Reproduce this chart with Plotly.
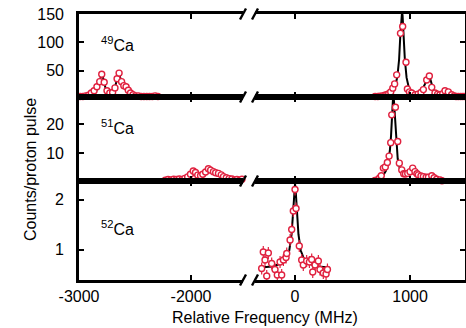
import plotly.graph_objects as go
from plotly.subplots import make_subplots

# ---------------- data ----------------
# 49Ca, left segment
ca49_left_x = [-2990, -2965, -2940, -2915, -2890, -2865, -2840, -2815, -2797, -2775, -2750, -2725,
               -2700, -2679, -2660, -2642, -2620, -2600, -2580, -2560, -2540, -2518, -2495, -2470,
               -2445, -2420, -2395, -2370, -2345, -2320, -2295]
ca49_left_y = [5, 5, 6, 7, 11, 15, 22, 31, 44, 30, 15, 11,
               12, 20, 36, 46, 31, 24, 22, 16, 11, 8, 6, 6,
               5, 5, 5, 5, 5, 6, 5]
ca49_left_fit_x = [-2990, -2920, -2880, -2850, -2830, -2815, -2805, -2797, -2788, -2775, -2760, -2740,
                   -2720, -2700, -2680, -2665, -2652, -2645, -2635, -2620, -2605, -2590, -2575, -2555,
                   -2530, -2500, -2450, -2290]
ca49_left_fit_y = [5, 6, 9, 14, 22, 32, 40, 45, 40, 28, 17, 12,
                   11, 13, 20, 32, 44, 46, 40, 30, 25, 24, 21, 15,
                   10, 7, 5.5, 5]
# 49Ca, right segment
ca49_right_x = [696, 720, 739, 760, 780, 797, 815, 832, 850, 866, 884, 917, 936, 965, 977, 995, 1015,
                1045, 1070, 1095, 1116, 1145, 1168, 1189, 1217, 1240, 1260, 1285, 1304, 1333, 1362,
                1385, 1400, 1420, 1440, 1460, 1478]
ca49_right_y = [5, 5, 5.5, 6, 7, 8, 10, 13, 19.6, 27, 43, 116, 128, 65, 18, 13, 11,
                8, 9, 12, 17, 34, 41, 21, 11, 9, 8, 10, 15, 13, 8,
                6, 5, 5, 5, 5, 5]
ca49_right_fit_x = [690, 750, 800, 840, 870, 890, 905, 915, 925, 930, 935, 945, 955, 970, 990, 1020,
                    1060, 1100, 1130, 1150, 1165, 1180, 1200, 1230, 1270, 1290, 1305, 1320, 1350, 1400,
                    1480]
ca49_right_fit_y = [5, 6, 8, 13, 22, 40, 70, 110, 148, 152, 148, 110, 70, 38, 20, 11,
                    9, 14, 28, 38, 42, 33, 18, 10, 9, 12, 14, 12, 8, 6,
                    5]

# 51Ca, left segment
ca51_left_x = [-2230, -2205, -2180, -2155, -2130, -2105, -2080, -2055, -2030, -2005, -1980, -1960,
               -1940, -1915, -1895, -1870, -1845, -1825, -1800, -1780, -1755, -1730, -1710, -1685,
               -1660, -1635, -1610, -1590, -1565, -1545]
ca51_left_y = [0.8, 1.0, 0.9, 1.1, 1.0, 1.2, 1.0, 1.4, 1.9, 2.8, 3.9, 3.4,
               2.5, 2.3, 2.8, 3.6, 4.7, 4.2, 3.7, 3.3, 3.1, 2.6, 2.0, 1.6,
               1.3, 1.2, 0.9, 1.0, 0.8, 1.1]
ca51_left_fit_x = [-2230, -2100, -2040, -2010, -1990, -1978, -1965, -1945, -1925, -1900, -1875, -1855,
                   -1845, -1835, -1815, -1790, -1765, -1740, -1715, -1690, -1650, -1545]
ca51_left_fit_y = [0.9, 1.1, 1.6, 2.6, 3.6, 4.0, 3.6, 2.6, 2.3, 2.6, 3.5, 4.4,
                   4.6, 4.3, 3.6, 3.1, 2.9, 2.5, 2.0, 1.5, 1.1, 0.9]
# 51Ca, right segment
ca51_right_x = [652, 672, 695, 715, 735, 750, 768, 785, 803, 818, 832, 841, 873, 893, 907, 928, 945,
                960, 980, 1000, 1023, 1043, 1060, 1072, 1095, 1116, 1140, 1160, 1189, 1210, 1232,
                1261, 1278]
ca51_right_y = [0.3, 0.4, 0.7, 0.9, 1.5, 2.3, 4.9, 5.3, 6.8, 9.0, 13.6, 23.1, 25.7, 14.0, 6.6, 4.3, 3.0,
                2.9, 3.1, 3.7, 4.9, 3.7, 3.0, 2.6, 2.2, 2.0, 1.8, 1.8, 2.3, 1.6, 1.1,
                0.9, 0.6]
ca51_right_fit_x = [652, 720, 760, 790, 810, 825, 835, 845, 853, 860, 870, 880, 893, 910, 930, 960,
                    990, 1012, 1025, 1045, 1070, 1110, 1160, 1190, 1220, 1278]
ca51_right_fit_y = [0.3, 0.8, 2.0, 4.0, 7.0, 11.0, 16.0, 24.0, 29.5, 28.0, 22.0, 14.0, 8.0, 5.0, 3.5, 3.0,
                    3.8, 4.6, 4.6, 3.6, 2.6, 2.0, 1.9, 2.0, 1.4, 0.8]

# 52Ca, right segment only
ca52_x = [-290, -276, -261, -246, -232, -203, -174, -154, -130, -116, -101, -78, -72, -43, -29, -15,
          0, 9, 37, 58, 72, 101, 125, 145, 154, 174, 203, 217, 246, 270, 282]
ca52_y = [0.62, 0.95, 0.79, 0.47, 0.93, 0.72, 0.60, 0.49, 0.75, 0.49, 0.79, 0.84, 0.92, 1.19, 1.40, 1.77,
          2.20, 1.82, 1.07, 0.79, 0.69, 0.77, 0.75, 0.80, 0.55, 0.69, 0.77, 0.60, 0.53, 0.51, 0.60]
ca52_err = [0.12] * len(ca52_x)
ca52_fit_x = [-300, -200, -120, -80, -50, -30, -15, -5, 0, 5, 15, 30, 50, 80, 120, 200, 300]
ca52_fit_y = [0.64, 0.66, 0.72, 0.80, 0.98, 1.30, 1.80, 2.20, 2.32, 2.20, 1.80, 1.30, 0.98, 0.80, 0.72,
              0.66, 0.64]

isotope_labels = ["<sup>49</sup>Ca", "<sup>51</sup>Ca", "<sup>52</sup>Ca"]
x_left_ticks = [-3000, -2000]
x_left_ticktext = ["-3000", "-2000"]
x_right_ticks = [0, 1000]
x_right_ticktext = ["0", "1000"]
y_ticks = [[50, 100, 150], [10, 20], [1, 2]]
y_ranges = [[4, 150], [0.5, 29.2], [0.39, 2.37]]
x_left_range = [-3000, -1536]
x_right_range = [-348, 1478]

# ---------------- figure ----------------
W, H = 466, 328
L, R, T, B = 79, 1, 14, 48
PW, PH = W - L - R, H - T - B


def px(x):
    return (x - L) / PW


def py(y):
    return (H - B - y) / PH


RED = "#e0213f"
FONT = "Liberation Sans, Arial, Helvetica, sans-serif"

fig = make_subplots(rows=3, cols=2)

def add_panel(row, col, dx, dy, fx, fy, err=None):
    fig.add_trace(go.Scatter(x=fx, y=fy, mode="lines", line=dict(color="black", width=2),
                             showlegend=False, hoverinfo="skip"), row=row, col=col)
    kw = {}
    if err is not None:
        kw["error_y"] = dict(type="data", array=err, color=RED, thickness=1.2, width=0)
    fig.add_trace(go.Scatter(x=dx, y=dy, mode="markers",
                             marker=dict(symbol="circle", size=6, color="white",
                                         line=dict(color=RED, width=1.4)),
                             cliponaxis=False, showlegend=False, **kw), row=row, col=col)

add_panel(1, 1, ca49_left_x, ca49_left_y, ca49_left_fit_x, ca49_left_fit_y)
add_panel(1, 2, ca49_right_x, ca49_right_y, ca49_right_fit_x, ca49_right_fit_y)
add_panel(2, 1, ca51_left_x, ca51_left_y, ca51_left_fit_x, ca51_left_fit_y)
add_panel(2, 2, ca51_right_x, ca51_right_y, ca51_right_fit_x, ca51_right_fit_y)
add_panel(3, 2, ca52_x, ca52_y, ca52_fit_x, ca52_fit_y, err=ca52_err)
# empty trace so that the lower-left (empty) segment still draws its axes
fig.add_trace(go.Scatter(x=[None], y=[None], mode="markers", showlegend=False, hoverinfo="skip"),
              row=3, col=1)

# domains (pixel based)
xdom_left = [0, px(243)]
xdom_right = [px(255), 1]
ydoms = [[py(97), 1], [py(181), py(97)], [0, py(181)]]

LW = 2.6
axis_common = dict(showgrid=False, zeroline=False, ticks="inside", ticklen=5, tickwidth=2.4,
                   tickcolor="black", linecolor="black", showline=True,
                   tickfont=dict(family=FONT, size=16, color="black"))

for r in range(3):
    for c in range(2):
        idx = r * 2 + c + 1
        xs = "xaxis" if idx == 1 else f"xaxis{idx}"
        ys = "yaxis" if idx == 1 else f"yaxis{idx}"
        xa = dict(axis_common)
        xa.update(domain=xdom_left if c == 0 else xdom_right,
                  range=x_left_range if c == 0 else x_right_range,
                  tickmode="array",
                  tickvals=x_left_ticks if c == 0 else x_right_ticks,
                  ticktext=x_left_ticktext if c == 0 else x_right_ticktext,
                  mirror="ticks", linewidth=LW, showticklabels=(r == 2),
                  ticklabelstandoff=0)
        ya = dict(axis_common)
        ya.update(domain=ydoms[r], range=y_ranges[r], tickmode="array", tickvals=y_ticks[r])
        if c == 0:
            ya.update(side="left", showticklabels=True, linewidth=LW, ticklabelstandoff=9)
        else:
            ya.update(side="right", showticklabels=False, linewidth=1.8)
        fig.layout[xs].update(xa)
        fig.layout[ys].update(ya)

# axis break marks
shapes = []
for yb in [14, 97, 181, 280]:
    for xb in [243, 255]:
        shapes.append(dict(type="line", xref="paper", yref="paper",
                           x0=px(xb - 3), y0=py(yb + 5.5), x1=px(xb + 3), y1=py(yb - 5.5),
                           line=dict(color="black", width=2.4)))

annotations = []
label_y = [44, 127, 228]
for lab, ly in zip(isotope_labels, label_y):
    annotations.append(dict(text=lab, xref="paper", yref="paper", x=px(99), y=py(ly),
                            xanchor="left", yanchor="middle", showarrow=False,
                            font=dict(family=FONT, size=16, color="black")))
annotations.append(dict(text="Relative Frequency (MHz)", xref="paper", yref="paper",
                        x=px(265), y=py(317), xanchor="center", yanchor="middle", showarrow=False,
                        font=dict(family=FONT, size=16, color="black")))
annotations.append(dict(text="Counts/proton pulse", xref="paper", yref="paper",
                        x=px(30), y=py(170), xanchor="center", yanchor="middle", showarrow=False,
                        textangle=-90, font=dict(family=FONT, size=16, color="black")))

fig.update_layout(width=W, height=H, margin=dict(l=L, r=R, t=T, b=B),
                  paper_bgcolor="white", plot_bgcolor="white", showlegend=False,
                  shapes=shapes, annotations=annotations,
                  font=dict(family=FONT, size=16, color="black"))

fig.write_html("out.html")
